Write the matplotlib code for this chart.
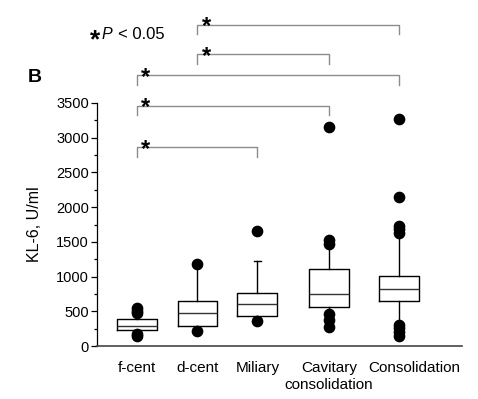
import matplotlib
matplotlib.use("Agg")
import matplotlib.pyplot as plt
import matplotlib.ticker as ticker
import matplotlib.transforms as mtransforms

plt.rcParams['font.family'] = ['Liberation Sans', 'DejaVu Sans']

# groups and box-plot statistics (KL-6, U/ml)
groups = ['f-cent', 'd-cent', 'Miliary', 'Cavitary\nconsolidation', 'Consolidation']
medians = [290, 480, 605, 750, 820]
q1 = [225, 290, 425, 565, 645]
q3 = [385, 645, 765, 1115, 1005]
whisk_lo = [180, 225, 400, 465, 310]
whisk_hi = [470, 1175, 1220, 1470, 1630]
outliers = [
    [545, 505, 470, 180, 145],
    [1175, 222],
    [1650, 360],
    [3160, 1520, 1473, 465, 370, 275],
    [3270, 2140, 1726, 1680, 1631, 309, 260, 200, 145],
]

# significant pairs (index into groups) and bracket heights
pairs = [(0, 2), (0, 3), (0, 4), (1, 3), (1, 4)]
bracket_y = [2860, 3460, 3900, 4200, 4630]

pos = [1, 2.0, 2.99, 4.17, 5.33]
label_pos = [1, 2.0, 2.99, 4.17, 5.59]

fig = plt.figure(figsize=(4.78, 3.99), dpi=100)
ax = fig.add_axes([97 / 478, 1 - 346 / 399, 365 / 478, 243 / 399])

stats = []
for i, g in enumerate(groups):
    stats.append({'med': medians[i], 'q1': q1[i], 'q3': q3[i],
                  'whislo': whisk_lo[i], 'whishi': whisk_hi[i],
                  'fliers': outliers[i], 'label': g})

ax.bxp(stats, positions=pos, widths=0.66, showfliers=True,
       boxprops=dict(color='black', linewidth=1.0),
       medianprops=dict(color='#333333', linewidth=1.0),
       whiskerprops=dict(color='black', linewidth=1.0),
       capprops=dict(color='black', linewidth=1.0),
       capwidths=0.12,
       flierprops=dict(marker='o', markerfacecolor='black', markeredgecolor='black',
                       markersize=7.4, linestyle='none'))

ax.set_xlim(0.339, 6.372)
ax.set_ylim(0, 3500)
ax.yaxis.set_major_locator(ticker.MultipleLocator(500))
ax.yaxis.set_minor_locator(ticker.MultipleLocator(250))
ax.tick_params(axis='y', which='major', length=4.3, width=0.9, labelsize=10.5, pad=1.5)
ax.tick_params(axis='y', which='minor', length=2, width=0.9)
ax.set_xticks([])
for sp in ['top', 'right']:
    ax.spines[sp].set_visible(False)
ax.spines['left'].set_linewidth(0.9)
ax.spines['bottom'].set_linewidth(1.2)
ax.spines['bottom'].set_color('#444444')

# category labels (the last one sits right of its box in the reference)
trans = mtransforms.blended_transform_factory(ax.transData, ax.transAxes)
for x, g in zip(label_pos, groups):
    ax.text(x, -0.062, g, transform=trans, ha='center', va='top', fontsize=11,
            linespacing=1.25)

ax.set_ylabel('KL-6, U/ml', fontsize=11.5)
ax.yaxis.set_label_coords(-0.15, 0.5)

# significance brackets
drop = 137
for (a, b), y in zip(pairs, bracket_y):
    xa, xb = pos[a], pos[b]
    ax.plot([xa, xa, xb, xb], [y - drop, y, y, y - drop], color='#8c8c8c',
            linewidth=1.0, clip_on=False)
    ax.annotate('*', xy=(xa, y), xytext=(3.0, -6.0), textcoords='offset points',
                fontsize=17, fontweight='bold', ha='left', va='baseline',
                annotation_clip=False)

fig.text(28 / 478, 1 - 82 / 399, 'B', fontsize=14, fontweight='bold', va='baseline')
fig.text(90 / 478, 1 - 47 / 399, '*', fontsize=19, fontweight='bold', va='baseline')
fig.text(102 / 478, 1 - 39 / 399, 'P', fontsize=11.5, style='italic', va='baseline')
fig.text(118 / 478, 1 - 39 / 399, '< 0.05', fontsize=12, va='baseline')

fig.savefig('out.png', dpi=100)
